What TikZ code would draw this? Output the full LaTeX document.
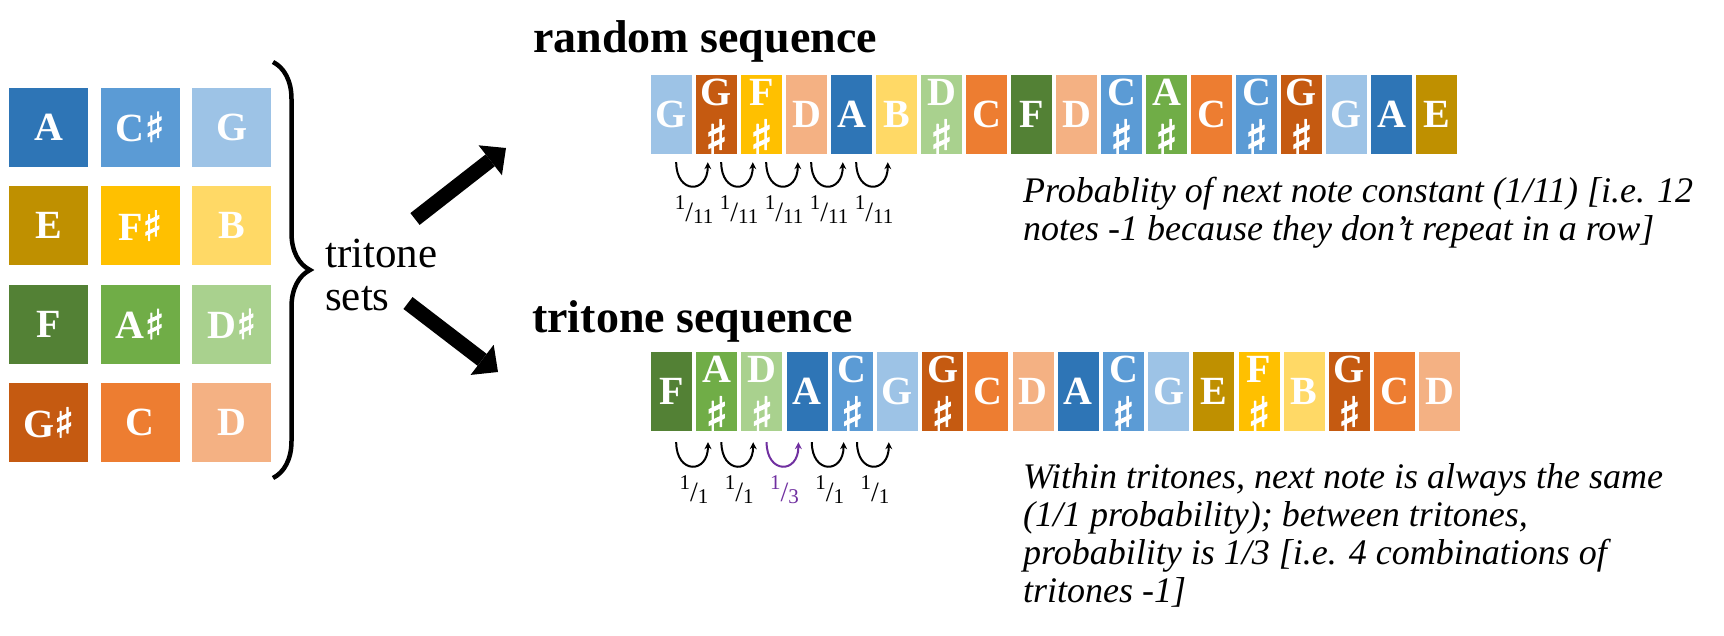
\documentclass[tikz,border=0pt]{standalone}
\usepackage{fontspec}
\setmainfont{Liberation Serif}
\newfontfamily\symfont[FakeBold=2.5]{DejaVu Sans Bold}
\usepackage{tikz}
\usetikzlibrary{arrows.meta,calc,decorations.pathreplacing,positioning}

\definecolor{cA}{HTML}{2E75B6}
\definecolor{cCs}{HTML}{5B9BD5}
\definecolor{cG}{HTML}{9DC3E6}
\definecolor{cE}{HTML}{BF9000}
\definecolor{cFs}{HTML}{FFC000}
\definecolor{cB}{HTML}{FFD966}
\definecolor{cF}{HTML}{538135}
\definecolor{cAs}{HTML}{70AD47}
\definecolor{cDs}{HTML}{A9D18E}
\definecolor{cGs}{HTML}{C55A11}
\definecolor{cC}{HTML}{ED7D31}
\definecolor{cD}{HTML}{F4B183}
\definecolor{cP}{HTML}{7030A0}

\newcommand{\shp}[1][41]{{\symfont\fontsize{#1}{#1}\selectfont ♯}}
\newcommand{\pfrac}[2]{{\fontsize{21}{21}\selectfont\raisebox{14pt}{#1}\raisebox{2pt}{\fontsize{28}{28}\selectfont/}#2}}

\tikzset{
  gridcell/.style={minimum width=79pt, minimum height=79pt, inner sep=0pt, text=white, font=\fontsize{40}{40}\selectfont\bfseries},
  seqcell/.style={minimum width=41pt, minimum height=79pt, inner sep=0pt},
  letter/.style={text=white, inner sep=0pt, font=\fontsize{40}{40}\selectfont\bfseries},
  hop/.style={line width=2pt, -{Stealth[length=7pt,width=7pt]}},
  prob/.style={inner sep=0pt, anchor=north},
  heading/.style={inner sep=0pt, anchor=base west, font=\fontsize{46}{50}\selectfont\bfseries},
  remark/.style={inner sep=0pt, anchor=base west, align=left, font=\fontsize{36}{38}\selectfont\itshape},
  brc/.style={decorate, decoration={brace, amplitude=37pt}, line width=4.5pt},
  bigarrow/.style={line width=15pt, -{Triangle[length=20pt,width=38pt,line width=0pt]}},
}

\begin{document}
\begin{tikzpicture}[x=1pt, y=-1pt]
  \useasboundingbox (0,0) rectangle (1724,635);

  \foreach \n/\t/\c [count=\i from 0] in {A/A/cA, Cs/C\shp/cCs, G/G/cG, E/E/cE, Fs/F\shp/cFs, B/B/cB,
      F/F/cF, As/A\shp/cAs, Ds/D\shp/cDs, Gs/G\shp/cGs, C/C/cC, D/D/cD}{
    \pgfmathtruncatemacro\col{mod(\i,3)}
    \pgfmathtruncatemacro\row{div(\i,3)}
    \node[gridcell, fill=\c] (g\n) at ({48.5+91.7*\col}, {127+98.5*\row}) {\t};
  }

  \coordinate (brt) at (273,62);
  \coordinate (brb) at (273,478);
  \draw[brc] (brt) -- (brb);
  \node[anchor=base west, align=left, inner sep=0pt, font=\fontsize{43}{43}\selectfont] (sets) at (325,310) {tritone\\sets};

  \coordinate (up0) at (415,219);
  \coordinate (up1) at (506,148);
  \coordinate (dn0) at (408,303);
  \coordinate (dn1) at (498,372);
  \draw[bigarrow] (up0) -- (up1);
  \draw[bigarrow] (dn0) -- (dn1);

  \node[heading] (rhead) at (533,52) {random sequence};
  \node[heading] (thead) at (532,332) {tritone sequence};

  \foreach \n/\s/\c [count=\i] in {G/0/cG, G/1/cGs, F/1/cFs, D/0/cD, A/0/cA, B/0/cB, D/1/cDs, C/0/cC, F/0/cF,
      D/0/cD, C/1/cCs, A/1/cAs, C/0/cC, C/1/cCs, G/1/cGs, G/0/cG, A/0/cA, E/0/cE}{
    \node[seqcell, fill=\c] (r\i) at ({671.5+45*(\i-1)}, 114.5) {};
    \ifnum\s=1
      \node[letter] at ($(r\i)+(0,-22)$) {\n};
      \node[letter] at ($(r\i)+(0,22.5)$) {\shp[48]};
    \else
      \node[letter] at (r\i) {\n};
    \fi
  }

  \foreach \n/\s/\c [count=\i] in {F/0/cF, A/1/cAs, D/1/cDs, A/0/cA, C/1/cCs, G/0/cG, G/1/cGs, C/0/cC, D/0/cD,
      A/0/cA, C/1/cCs, G/0/cG, E/0/cE, F/1/cFs, B/0/cB, G/1/cGs, C/0/cC, D/0/cD}{
    \node[seqcell, fill=\c] (t\i) at ({671.5+45.2*(\i-1)}, 391.5) {};
    \ifnum\s=1
      \node[letter] at ($(t\i)+(0,-22)$) {\n};
      \node[letter] at ($(t\i)+(0,22.5)$) {\shp[48]};
    \else
      \node[letter] at (t\i) {\n};
    \fi
  }

  \foreach \i [evaluate=\i as \j using int(\i+1)] in {1,...,5}{
    \draw[hop] ($(r\i.south east)+(-16,8)$) .. controls +(0,32) and +(0,32) .. ($(r\j.south west)+(12,8)$);
    \node[prob] at ($(r\i.south east)!.5!(r\j.south west)+(0,41)$) {\pfrac{1}{11}};
  }
  \foreach \i/\d/\k [evaluate=\i as \j using int(\i+1)] in {1/1/black, 2/1/black, 3/3/cP, 4/1/black, 5/1/black}{
    \draw[hop, \k] ($(t\i.south east)+(-16,11)$) .. controls +(0,32) and +(0,32) .. ($(t\j.south west)+(12,11)$);
    \node[prob, text=\k] at ($(t\i.south east)!.5!(t\j.south west)+(0,44)$) {\pfrac{1}{\d}};
  }

  \node[remark] (rnote) at (1023,240) {Probablity of next note constant (1/11) [i.e. 12\\notes -1 because they don’t repeat in a row]};
  \node[remark] (tnote) at (1023,602) {Within tritones, next note is always the same\\(1/1 probability); between tritones,\\probability is 1/3 [i.e. 4 combinations of\\tritones -1]};
\end{tikzpicture}
\end{document}
